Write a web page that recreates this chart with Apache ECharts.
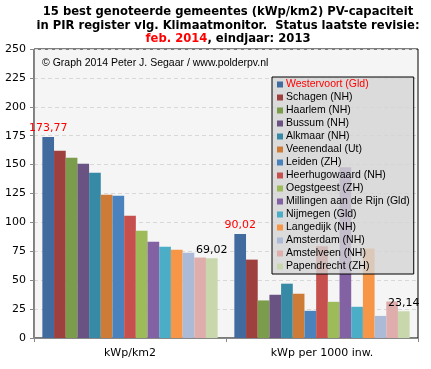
<!DOCTYPE html>
<html>
<head>
<meta charset="utf-8">
<script src="https://cdn.jsdelivr.net/npm/echarts@6/dist/echarts.min.js"></script>
<style>html,body{margin:0;padding:0;background:#fff}#c{width:431px;height:369px}</style>
</head>
<body>
<div id="c"></div>
<script>
const categories = ['kWp/km2', 'kWp per 1000 inw.'];
const gemeenten = ['Westervoort (Gld)','Schagen (NH)','Haarlem (NH)','Bussum (NH)','Alkmaar (NH)','Veenendaal (Ut)','Leiden (ZH)','Heerhugowaard (NH)','Oegstgeest (ZH)','Millingen aan de Rijn (Gld)','Nijmegen (Gld)','Langedijk (NH)','Amsterdam (NH)','Amstelveen (NH)','Papendrecht (ZH)'];
const kwpPerKm2 = [173.77,162.0,156.0,150.8,143.0,124.0,123.0,105.8,92.7,83.2,78.9,76.3,73.7,69.6,69.02];
const kwpPer1000 = [90.02,67.8,32.5,37.4,47.0,38.3,23.5,79.4,31.3,147.8,27.0,77.4,19.1,31.6,23.14];
const yTicks = [0,25,50,75,100,125,150,175,200,225,250];
const titleLines = ['15 best genoteerde gemeentes (kWp/km2) PV-capaciteit', 'in PIR register vlg. Klimaatmonitor.  Status laatste revisie:'];
const titleRed = 'feb. 2014';
const titleRest = ', eindjaar: 2013';
const colors = ['#416a9e','#9e413e','#7b9c4a','#6a5283','#378aa5','#cf7b38','#4a82bd','#c6504d','#9dbb59','#8262a3','#4badc6','#f79646','#abbbd7','#dfaeac','#c9d7ac'];

const FONT = 'DejaVu Sans';
const SMALL = 'Liberation Sans';
const fmt = v => v.toFixed(2).replace('.', ',');

const series = gemeenten.map((name, i) => {
  const s = {
    name: name,
    type: 'bar',
    data: [kwpPerKm2[i], kwpPer1000[i]],
    itemStyle: { color: colors[i] },
    barGap: '0%',
    barCategoryGap: '8.7%',
    emphasis: { disabled: true }
  };
  if (i === 0 || i === gemeenten.length - 1) {
    s.label = {
      show: true, position: 'top', distance: 3,
      fontFamily: FONT, fontSize: 11,
      color: i === 0 ? '#ff0000' : '#000',
      formatter: p => fmt(p.value)
    };
  }
  return s;
});

const tStyle = { fontFamily: FONT, fontSize: 11.6, fontWeight: 'bold', fill: '#000', align: 'center', verticalAlign: 'middle' };
const chart = echarts.init(document.getElementById('c'), null, { renderer: 'canvas' });
chart.setOption({
  animation: false,
  backgroundColor: '#fff',
  color: colors,
  grid: { left: 34, right: 13, top: 49, bottom: 31, show: true, backgroundColor: '#f5f5f5', borderColor: '#000', borderWidth: 1 },
  legend: {
    orient: 'vertical',
    left: 272, top: 77,
    itemWidth: 6, itemHeight: 6, itemGap: 0,
    icon: 'rect',
    padding: [1, 4, 1, 5],
    backgroundColor: 'rgba(212,212,212,0.8)',
    borderColor: '#000', borderWidth: 1,
    selectedMode: false,
    textStyle: { fontFamily: SMALL, fontSize: 10.5, color: '#000', lineHeight: 13, padding: [0,0,0,-2] },
    data: gemeenten.map((n, i) => i === 0 ? { name: n, textStyle: { color: '#ff0000' } } : { name: n })
  },
  xAxis: {
    type: 'category', data: categories,
    axisLine: { lineStyle: { color: '#888' } },
    axisTick: { show: true, alignWithLabel: false, length: 4, lineStyle: { color: '#888' } },
    axisLabel: { fontFamily: FONT, fontSize: 11, color: '#000', margin: 10 }
  },
  yAxis: {
    type: 'value', min: yTicks[0], max: yTicks[yTicks.length - 1], interval: 25,
    axisLine: { show: true, lineStyle: { color: '#888' } },
    axisTick: { show: true, length: 4, lineStyle: { color: '#888' } },
    axisLabel: { fontFamily: FONT, fontSize: 11, color: '#000', margin: 8 },
    splitLine: { lineStyle: { color: '#d8d8d8', type: [4, 3] } }
  },
  graphic: [
    { type: 'text', x: 228, y: 12, style: Object.assign({ text: titleLines[0] }, tStyle) },
    { type: 'text', x: 228, y: 25.5, style: Object.assign({ text: titleLines[1] }, tStyle) },
    { type: 'text', x: 228, y: 39, style: Object.assign({ text: '{r|' + titleRed + '}' + titleRest,
        rich: { r: { fontFamily: FONT, fontSize: 11.6, fontWeight: 'bold', fill: '#ff0000' } } }, tStyle) },
    { type: 'text', left: 42, top: 58,
      style: { text: '© Graph 2014 Peter J. Segaar / www.polderpv.nl', fontFamily: SMALL, fontSize: 10.5, fill: '#000' } }
  ],
  series: series
});
</script>
</body>
</html>
